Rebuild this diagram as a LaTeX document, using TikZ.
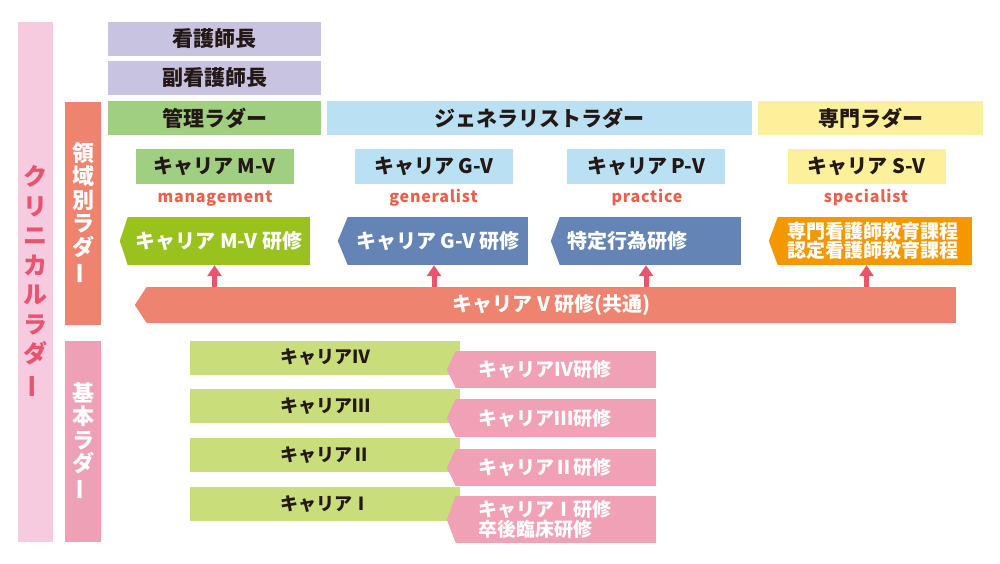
\documentclass[tikz,border=0pt]{standalone}
\usepackage{fontspec}
\usepackage{graphicx}
\setmainfont{Noto Sans CJK JP}
\newfontfamily\eigo{Noto Sans CJK JP}[LetterSpace=5]
\usetikzlibrary{arrows.meta}

\definecolor{ink}{HTML}{231815}
\definecolor{clinibg}{HTML}{F6CADF}
\definecolor{cliniink}{HTML}{E85470}
\definecolor{ryoikic}{HTML}{EE836F}
\definecolor{kihonc}{HTML}{EEA0B6}
\definecolor{kango}{HTML}{C9C3E2}
\definecolor{kanric}{HTML}{A0CF82}
\definecolor{genec}{HTML}{B9E1F3}
\definecolor{senmonc}{HTML}{FDF09A}
\definecolor{mvgreen}{HTML}{9AC21F}
\definecolor{gvblue}{HTML}{6384B4}
\definecolor{senkc}{HTML}{F39800}
\definecolor{yac}{HTML}{E9566C}
\definecolor{eigoc}{HTML}{E9604F}
\definecolor{kisoc}{HTML}{C9DD7B}
\definecolor{kisokc}{HTML}{F0A1B5}

\newcommand\tatebou{\rotatebox[origin=c]{90}{ー}}
\newcommand\tipleft[3]{\fill[#1] (#2.north west) -- ([xshift=-#3pt]#2.west) -- (#2.south west) -- cycle;}

\begin{document}
\begin{tikzpicture}[x=1pt, y=-1pt,
    rect/.style={rectangle, inner sep=0pt, text=ink, font=\fontsize{21}{24}\selectfont\bfseries},
    tate/.style={rectangle, inner sep=0pt, align=center, text=white, font=\fontsize{22}{23.5}\selectfont\bfseries},
    career/.style={rect, minimum width=158, minimum height=35, font=\fontsize{20}{24}\selectfont\bfseries},
    eigo/.style={anchor=base, text=eigoc, font=\eigo\fontsize{16}{18}\selectfont\bfseries},
    kenshu/.style={rect, text=white, minimum height=48, font=\fontsize{20}{24}\selectfont\bfseries},
    kiso/.style={rect, fill=kisoc, minimum width=270, minimum height=34, font=\fontsize{18}{20}\selectfont\bfseries},
    kisok/.style={rect, fill=kisokc, text=white, inner xsep=22pt, text width=156pt, align=left, font=\fontsize{19}{20}\selectfont\bfseries},
    ya/.style={draw=yac, line width=5pt, -{Triangle[width=14pt,length=11pt]}}
  ]
\useasboundingbox (0,0) rectangle (1000,564);

% left ladders
\node[tate, fill=clinibg, text=cliniink, minimum width=35, minimum height=520, font=\fontsize{24}{29.5}\selectfont\bfseries] (clini) at (35.5,282) {ク\\リ\\ニ\\カ\\ル\\ラ\\ダ\\\tatebou};
\node[tate, fill=ryoikic, minimum width=36, minimum height=223] (ryoiki) at (83,213.5) {領\\域\\別\\ラ\\ダ\\\tatebou};
\node[tate, fill=kihonc, minimum width=36, minimum height=201] (kihon) at (83,441.5) {基\\本\\ラ\\ダ\\\tatebou};

% top rows
\node[rect, fill=kango, minimum width=213, minimum height=34] (kancho) at (214.5,39) {看護師長};
\node[rect, fill=kango, minimum width=213, minimum height=34] (fuku) at (214.5,78) {副看護師長};
\node[rect, fill=kanric, minimum width=213, minimum height=34] (kanri) at (214.5,118) {管理ラダー};
\node[rect, fill=genec, minimum width=425, minimum height=34] (gene) at (539.5,118) {ジェネラリストラダー};
\node[rect, fill=senmonc, minimum width=225, minimum height=34] (senmon) at (870.5,118) {専門ラダー};

% career V
\node[career, fill=kanric] (mv) at (214.5,166.5) {キャリア M-V};
\node[career, fill=genec] (gv) at (434,166.5) {キャリア G-V};
\node[career, fill=genec] (pv) at (646,166.5) {キャリア P-V};
\node[career, fill=senmonc] (sv) at (866.5,166.5) {キャリア S-V};
\node[eigo] (mvl) at (215,202) {management};
\node[eigo] (gvl) at (433.5,202) {generalist};
\node[eigo] (pvl) at (647,202) {practice};
\node[eigo] (svl) at (866,202) {specialist};

% kenshu
\node[kenshu, fill=mvgreen, minimum width=182] (mvk) at (219,241) {キャリア M-V 研修};
\tipleft{mvgreen}{mvk}{8}
\node[kenshu, fill=gvblue, minimum width=180] (gvk) at (438,241) {キャリア G-V 研修};
\tipleft{gvblue}{gvk}{10}
\node[kenshu, fill=gvblue, inner xsep=7pt, text width=167pt, align=left] (tok) at (650.5,241) {特定行為研修};
\tipleft{gvblue}{tok}{9}
\node[kenshu, fill=senkc, inner xsep=9pt, text width=176pt, align=left, font=\fontsize{19}{18.5}\selectfont\bfseries] (senk) at (875,241) {専門看護師教育課程\\認定看護師教育課程};
\tipleft{senkc}{senk}{9}

% kyotsu
\node[kenshu, fill=ryoikic, minimum width=809, minimum height=36] (cv) at (551.5,305) {キャリア V 研修(共通)};
\tipleft{ryoikic}{cv}{12}
\foreach \a/\b in {mv/mvk, gv/gvk, pv/tok, sv/senk}
  \draw[ya] (cv.north -| \a) -- (\b.south -| \a);

% kihon ladder
\node[kiso] (c4) at (325,357.5) {キャリアⅣ};
\node[kiso] (c3) at (325,406) {キャリアⅢ};
\node[kiso] (c2) at (325,455) {キャリアⅡ};
\node[kiso] (c1) at (325,504) {キャリアⅠ};
\node[kisok, minimum height=37] (k4) at (556,369.5) {キャリアⅣ研修};
\tipleft{kisokc}{k4}{9}
\node[kisok, minimum height=38] (k3) at (556,418) {キャリアⅢ研修};
\tipleft{kisokc}{k3}{9}
\node[kisok, minimum height=37] (k2) at (556,467.5) {キャリアⅡ研修};
\tipleft{kisokc}{k2}{9}
\node[kisok, minimum height=47] (k1) at (556,519.5) {キャリアⅠ研修\\卒後臨床研修};
\tipleft{kisokc}{k1}{9}
\end{tikzpicture}
\end{document}
